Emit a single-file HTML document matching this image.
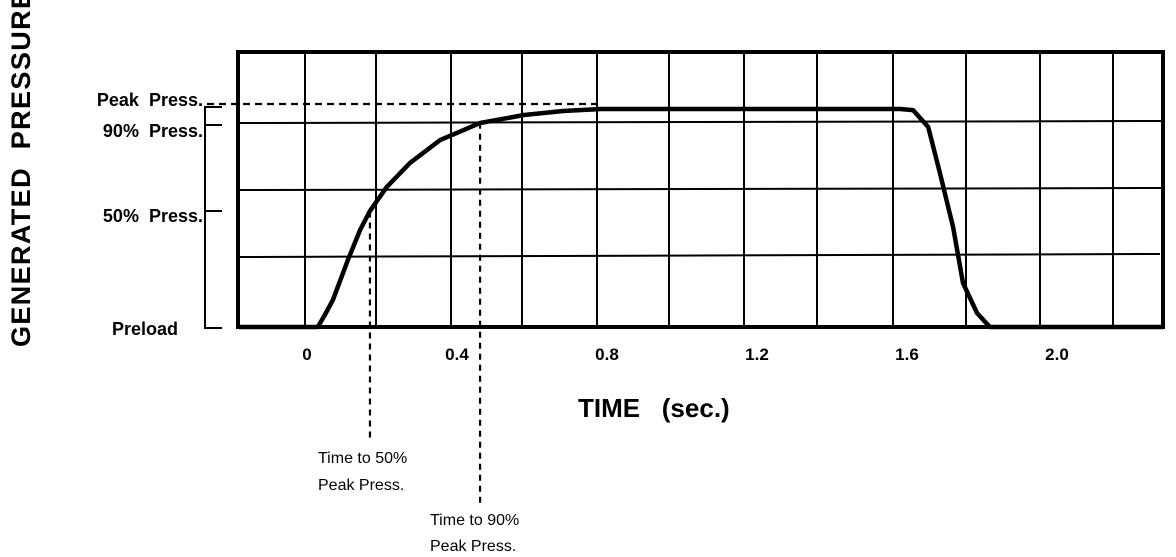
<!DOCTYPE html>
<html><head><meta charset="utf-8"><style>
body{margin:0;background:#fff;}
svg{display:block;font-family:"Liberation Sans",Arial,sans-serif;}
</style></head><body>
<svg id="chart" width="1176" height="557" viewBox="0 0 1176 557" xmlns="http://www.w3.org/2000/svg">
<g id="grid" stroke="#000" stroke-width="2">
 <line x1="305" y1="53" x2="305" y2="327"/><line x1="376" y1="53" x2="376" y2="327"/>
 <line x1="451" y1="53" x2="451" y2="327"/><line x1="522" y1="53" x2="522" y2="327"/>
 <line x1="597" y1="53" x2="597" y2="327"/><line x1="669" y1="53" x2="669" y2="327"/>
 <line x1="744" y1="53" x2="744" y2="327"/><line x1="817" y1="53" x2="817" y2="327"/>
 <line x1="893" y1="53" x2="893" y2="327"/><line x1="966" y1="53" x2="966" y2="327"/>
 <line x1="1040" y1="53" x2="1040" y2="327"/><line x1="1113" y1="53" x2="1113" y2="327"/>
 <line x1="238" y1="123" x2="1163" y2="121"/><line x1="238" y1="190" x2="1163" y2="188"/>
 <line x1="238" y1="257" x2="1160" y2="254"/>
</g>
<rect x="238" y="52" width="925" height="275" fill="none" stroke="#000" stroke-width="4"/>
<g stroke="#000" stroke-width="2">
 <line x1="205" y1="106" x2="205" y2="329"/>
 <line x1="205" y1="107" x2="222" y2="107"/><line x1="205" y1="125" x2="222" y2="125"/>
 <line x1="205" y1="211" x2="222" y2="211"/><line x1="205" y1="328" x2="222" y2="328"/>
</g>
<g font-weight="bold" font-size="18" text-anchor="end">
 <text x="203" y="106" xml:space="preserve">Peak  Press.</text>
 <text x="203" y="137" xml:space="preserve">90%  Press.</text>
 <text x="203" y="222" xml:space="preserve">50%  Press.</text>
 <text x="178" y="335">Preload</text>
</g>
<text transform="translate(30,347) rotate(-90)" font-weight="bold" font-size="27" textLength="356" lengthAdjust="spacing" xml:space="preserve">GENERATED  PRESSURE</text>
<text x="578" y="417" font-weight="bold" font-size="26" xml:space="preserve">TIME   (sec.)</text>
<g id="ticks" font-weight="bold" font-size="17" text-anchor="middle"></g>
<g id="marks"></g>
<g font-size="16">
 <text x="318" y="463">Time to 50%</text>
 <text x="318" y="490">Peak Press.</text>
 <text x="430" y="525">Time to 90%</text>
 <text x="430" y="551">Peak Press.</text>
</g>
</svg>
<script>
const times = [-0.18,0.035,0.054,0.076,0.117,0.15,0.177,0.223,0.286,0.368,0.477,0.597,0.703,0.807,1.294,1.621,1.657,1.698,1.73,1.766,1.793,1.831,1.866,2.338];
const pressures = [0,0,5.4,12.2,30.2,43.7,52.3,63.1,73.9,84.2,91.9,95.5,97.3,98.2,98.2,98.2,97.7,90.1,69.4,45,19.8,6.3,0,0];
const tickValues = [0,0.4,0.8,1.2,1.6,2.0];
const tickLabels = ["0","0.4","0.8","1.2","1.6","2.0"];
const t50 = 0.177;
const t90 = 0.477;
const peakLevel = 100;

const NS = "http://www.w3.org/2000/svg";
function xScale(t){return 305 + t*367;}
function xLabel(t){return 307 + t*375;}
function yScale(p){return 327 - p*2.22;}

const ticksG = document.getElementById('ticks');
tickValues.forEach((v,i)=>{
  const tx = document.createElementNS(NS,'text');
  tx.setAttribute('x', xLabel(v));
  tx.setAttribute('y', 360);
  tx.textContent = tickLabels[i];
  
  
  ticksG.appendChild(tx);
});

const marks = document.getElementById('marks');
function mkLine(x1,y1,x2,y2,dash,name){
  const l = document.createElementNS(NS,'line');
  l.setAttribute('x1',x1);l.setAttribute('y1',y1);l.setAttribute('x2',x2);l.setAttribute('y2',y2);
  l.setAttribute('stroke','#000');l.setAttribute('stroke-width',2.2);
  if(dash) l.setAttribute('stroke-dasharray',dash);
  
  
  marks.appendChild(l);
}
mkLine(207, yScale(peakLevel)-1, 600, yScale(peakLevel)-1, '7,5', 'peak-pressure-dashed-line');
mkLine(xScale(t50), yScale(52), xScale(t50), 440, '6,5', 'time-to-50-dashed-line');
mkLine(xScale(t90), yScale(92), xScale(t90), 505, '6,5', 'time-to-90-dashed-line');

const path = document.createElementNS(NS,'path');
path.setAttribute('d', times.map((t,i)=>(i?'L':'M')+xScale(t).toFixed(1)+','+yScale(pressures[i]).toFixed(1)).join(''));
path.setAttribute('fill','none');
path.setAttribute('stroke','#000');
path.setAttribute('stroke-width','4.5');
path.setAttribute('stroke-linejoin','round');


marks.appendChild(path);
</script>
</body></html>
